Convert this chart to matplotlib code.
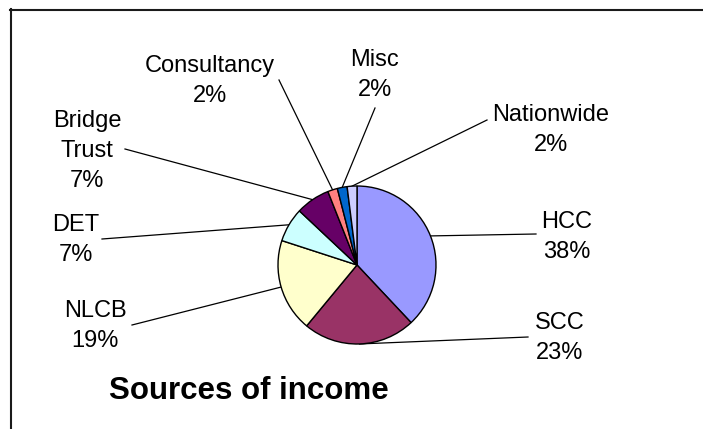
import numpy as np
import matplotlib
matplotlib.use("Agg")
import matplotlib.pyplot as plt

#-----------------DATA-------------------------------#
names = ["HCC", "SCC", "NLCB", "DET", "Bridge\nTrust", "Consultancy", "Misc", "Nationwide"]
shares = [38, 23, 19, 7, 7, 2, 2, 2]
colours = ["#9999FF", "#993366", "#FFFFCC", "#CCFFFF", "#660066", "#FF8080", "#0066CC", "#CCCCFF"]

#-----------------LAYOUT (pixels, y from top)--------#
W, H = 703, 429
pieCentre = (357, 265)
pieRadius = 79
# centre of each label block, and where its leader line ends
labelPos = [(567, 237), (560, 338), (95, 326), (76, 240), (87, 151), (210, 81), (375, 75), (551, 130)]
lineEnd = [(536, 234), (528, 337), (132, 325), (102, 239), (125, 149), (279, 80), (375, 108), (487, 120)]

def Y(p):
    return H - p

plt.rcParams['font.family'] = ['Liberation Sans', 'DejaVu Sans']

fig = plt.figure(figsize=(W / 100, H / 100), dpi=100)
ax = fig.add_axes([0, 0, 1, 1])

wedges, _ = ax.pie(shares, colors=colours, startangle=90, counterclock=False,
                   center=(pieCentre[0], Y(pieCentre[1])), radius=pieRadius,
                   wedgeprops=dict(edgecolor='black', linewidth=1.0))

total = sum(shares)
for i, w in enumerate(wedges):
    mid = np.deg2rad((w.theta1 + w.theta2) / 2)
    ex = pieCentre[0] + pieRadius * np.cos(mid)
    ey = Y(pieCentre[1]) + pieRadius * np.sin(mid)
    lx, ly = lineEnd[i]
    ax.plot([ex, lx], [ey, Y(ly)], color='black', lw=0.9, zorder=0)
    pct = "%d%%" % round(100 * shares[i] / total)
    tx, ty = labelPos[i]
    ax.text(tx, Y(ty), names[i] + "\n" + pct, ha='center', va='center',
            multialignment='center', fontsize=17, linespacing=1.45)

# title
ax.text(249, Y(391), "Sources of income", ha='center', va='center',
        fontsize=22.5, fontweight='bold')

# chart border (top and left only visible)
ax.plot([10, W], [Y(9.5), Y(9.5)], color='#1a1a1a', lw=1.5, clip_on=False)
ax.plot([10.5, 10.5], [Y(9), 0], color='#1a1a1a', lw=1.5, clip_on=False)

ax.set_xlim(0, W)
ax.set_ylim(0, H)
ax.set_aspect('equal')
ax.axis('off')

fig.savefig("out.png", dpi=100)
